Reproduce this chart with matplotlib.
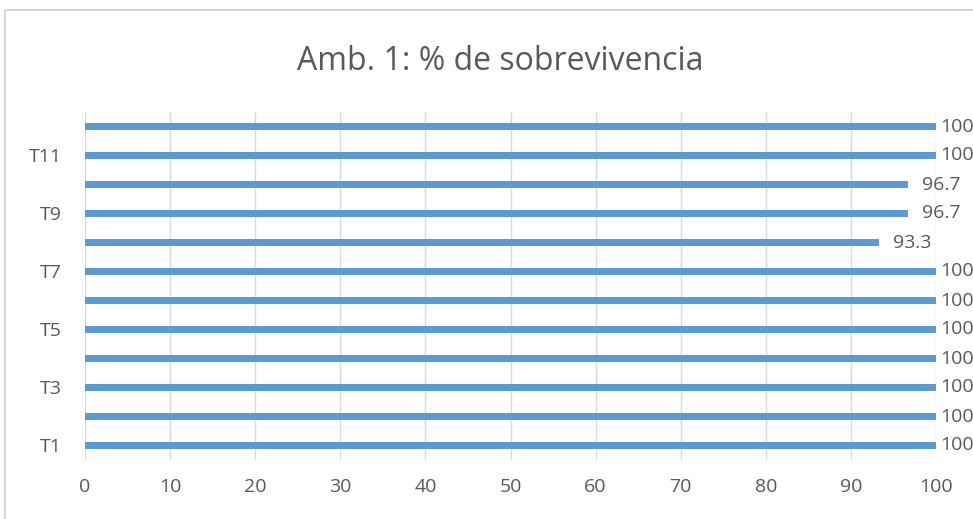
import matplotlib
matplotlib.use("Agg")
import matplotlib.pyplot as plt
from matplotlib.patches import Rectangle

plt.rcParams['font.family'] = ['Open Sans', 'DejaVu Sans']

categories = ["T1", "T2", "T3", "T4", "T5", "T6", "T7", "T8", "T9", "T10", "T11", "T12"]
values = [100, 100, 100, 100, 100, 100, 100, 93.3, 96.7, 96.7, 100, 100]
x_ticks = list(range(0, 101, 10))

bar_color = "#5b9bd5"
text_color = "#595959"
grid_color = "#d9d9d9"

fig = plt.figure(figsize=(9.73, 5.19), dpi=100)
fig.patch.set_facecolor("white")

# chart frame
fig.add_artist(Rectangle((5 / 973, -0.01), 1.0, 1 - 10 / 519 + 0.01,
                         transform=fig.transFigure, fill=False,
                         edgecolor="#d0d0d0", linewidth=1.2))

ax = fig.add_axes([85 / 973, 1 - 460 / 519, (936 - 85) / 973, (460 - 112) / 519])
ypos = list(range(len(categories)))
ax.barh(ypos, values, height=0.27, color=bar_color, zorder=3)

ax.set_xlim(0, 100)
ax.set_ylim(-0.5, len(categories) - 0.5)
ax.set_xticks(x_ticks)
ax.set_xticklabels([str(t) for t in x_ticks])
ax.set_yticks(ypos[::2])
ax.set_yticklabels(categories[::2])
ax.tick_params(axis="both", length=0, colors=text_color, labelsize=14)
ax.tick_params(axis="x", pad=13)
ax.tick_params(axis="y", pad=17)
ax.grid(axis="x", color=grid_color, linewidth=1, zorder=0)
for s in ax.spines.values():
    s.set_visible(False)

# value labels at the end of each bar
for y, v in zip(ypos, values):
    label = f"{v:g}"
    x = min(v + 1.6, 100.45)
    ax.text(x, y, label, va="center", ha="left", fontsize=14,
            color=text_color, clip_on=False)

fig.text(0.514, 1 - 62 / 519, "Amb. 1: % de sobrevivencia", ha="center",
         va="center", fontsize=23, color=text_color)

fig.savefig("out.png", dpi=100)
